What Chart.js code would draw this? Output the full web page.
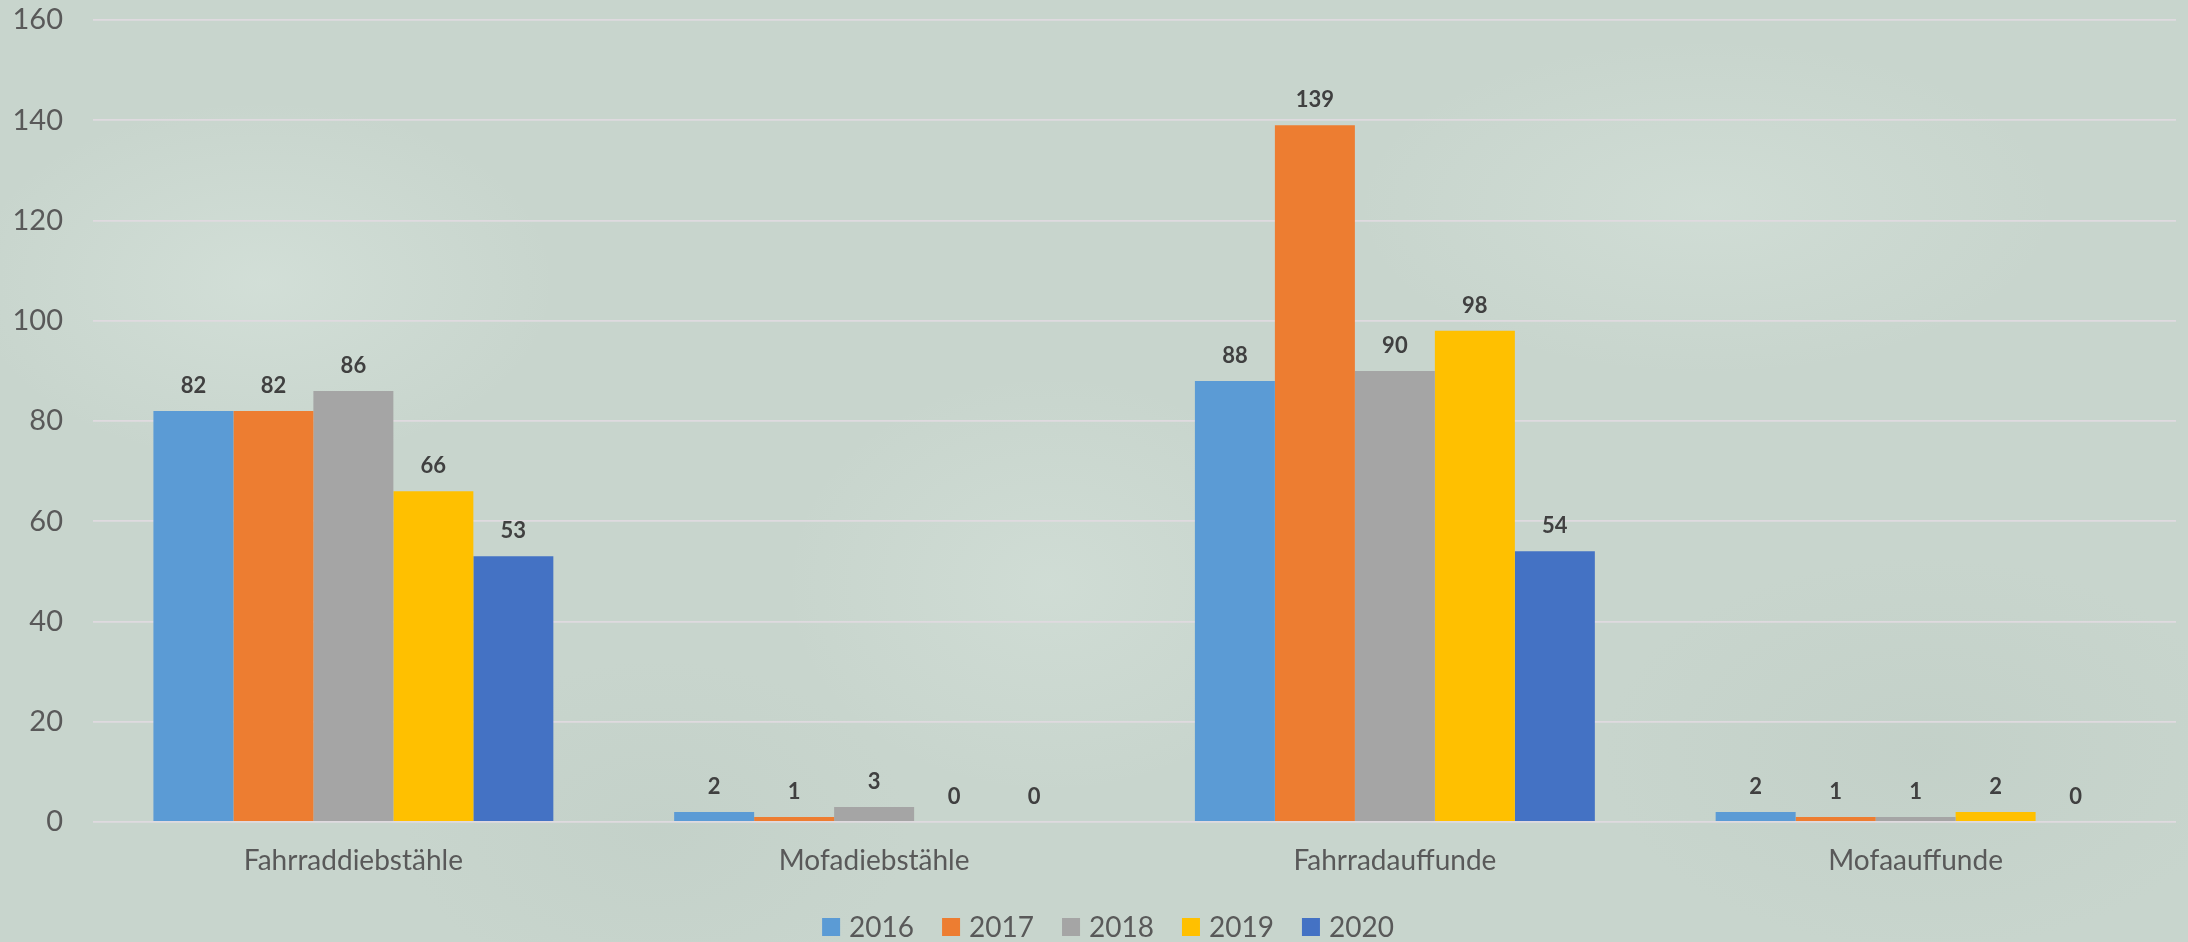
<!DOCTYPE html>
<html lang="de">
<head>
<meta charset="utf-8">
<title>Fahrrad- und Mofadiebstähle 2016–2020</title>
<script src="https://cdn.jsdelivr.net/npm/chart.js@4.4.1/dist/chart.umd.min.js"></script>
<style>
  html, body { margin: 0; padding: 0; width: 2188px; height: 942px; overflow: hidden; }
  body {
    background-color: #c8d5cd;
    background-image:
      radial-gradient(ellipse 420px 260px at 12% 30%, rgba(222,234,227,0.45), rgba(222,234,227,0) 70%),
      radial-gradient(ellipse 380px 300px at 48% 62%, rgba(222,234,227,0.35), rgba(222,234,227,0) 70%),
      radial-gradient(ellipse 500px 240px at 78% 22%, rgba(220,232,225,0.40), rgba(220,232,225,0) 70%),
      radial-gradient(ellipse 460px 280px at 88% 80%, rgba(186,200,192,0.35), rgba(186,200,192,0) 70%),
      radial-gradient(ellipse 360px 240px at 30% 88%, rgba(188,202,194,0.35), rgba(188,202,194,0) 70%);
  }
  canvas { display: block; }
</style>
</head>
<body>
<canvas id="chart" width="2188" height="942"></canvas>
<script>
// Kategorien und Werte je Jahr
const categories = ['Fahrraddiebstähle', 'Mofadiebstähle', 'Fahrradauffunde', 'Mofaauffunde'];
const years = ['2016', '2017', '2018', '2019', '2020'];
const values2016 = [82, 2, 88, 2];
const values2017 = [82, 1, 139, 1];
const values2018 = [86, 3, 90, 1];
const values2019 = [66, 0, 98, 2];
const values2020 = [53, 0, 54, 0];
const yTickValues = [0, 20, 40, 60, 80, 100, 120, 140, 160];

const seriesValues = [values2016, values2017, values2018, values2019, values2020];
const seriesColors = ['#5B9BD5', '#ED7D31', '#A5A5A5', '#FFC000', '#4472C4'];

const FONT = 'Lato, "Open Sans", "Liberation Sans", sans-serif';
const TEXT_GREY = '#595959';

// Zahlenwerte über den Balken
const valueLabels = {
  id: 'valueLabels',
  afterDatasetsDraw(chart) {
    const ctx = chart.ctx;
    ctx.save();
    ctx.font = 'bold 22px ' + FONT;
    ctx.fillStyle = '#404040';
    ctx.textAlign = 'center';
    ctx.textBaseline = 'alphabetic';
    chart.data.datasets.forEach((ds, i) => {
      chart.getDatasetMeta(i).data.forEach((bar, j) => {
        ctx.fillText(String(ds.data[j]), bar.x, bar.y - 18);
      });
    });
    ctx.restore();
  }
};

// Legende unter der Achsenbeschriftung
const bottomLegend = {
  id: 'bottomLegend',
  afterDraw(chart) {
    const ctx = chart.ctx;
    ctx.save();
    ctx.font = '28px ' + FONT;
    const box = 18, gap = 9, spacing = 28, centerX = 1108, boxTop = 918;
    const items = chart.data.datasets.map(ds => ({
      label: ds.label,
      color: ds.backgroundColor,
      w: box + gap + ctx.measureText(ds.label).width
    }));
    const total = items.reduce((s, it) => s + it.w, 0) + spacing * (items.length - 1);
    let x = centerX - total / 2;
    ctx.textAlign = 'left';
    ctx.textBaseline = 'middle';
    items.forEach(it => {
      ctx.fillStyle = it.color;
      ctx.fillRect(x, boxTop, box, box);
      ctx.fillStyle = TEXT_GREY;
      ctx.fillText(it.label, x + box + gap, boxTop + box / 2 + 1);
      x += it.w + spacing;
    });
    ctx.restore();
  }
};

function draw() {
  new Chart(document.getElementById('chart'), {
    type: 'bar',
    data: {
      labels: categories,
      datasets: years.map((year, i) => ({
        label: year,
        data: seriesValues[i],
        backgroundColor: seriesColors[i],
        borderWidth: 0,
        categoryPercentage: 0.768,
        barPercentage: 1.0
      }))
    },
    options: {
      responsive: false,
      devicePixelRatio: 1,
      animation: false,
      layout: { padding: { top: 20, right: 12, bottom: 0, left: 0 } },
      plugins: {
        legend: { display: false },
        tooltip: { enabled: false }
      },
      scales: {
        x: {
          grid: { display: false, drawTicks: false },
          border: { display: false },
          ticks: {
            color: TEXT_GREY,
            font: { family: FONT, size: 28 },
            padding: 22,
            maxRotation: 0,
            autoSkip: false
          },
          afterFit(scale) { scale.height = 120; }
        },
        y: {
          min: 0,
          max: 160,
          afterBuildTicks(scale) { scale.ticks = yTickValues.map(v => ({ value: v })); },
          grid: { color: '#dfdadf', lineWidth: 1.8, drawTicks: false },
          border: { display: false },
          ticks: {
            color: TEXT_GREY,
            font: { family: FONT, size: 29 },
            padding: 30
          },
          afterFit(scale) {
            scale.width = 93;
            scale.paddingTop = 0;
            scale.paddingBottom = 0;
          }
        }
      }
    },
    plugins: [valueLabels, bottomLegend]
  });
}

if (document.fonts && document.fonts.load) {
  Promise.all([
    document.fonts.load('28px Lato'),
    document.fonts.load('bold 22px Lato')
  ]).then(draw, draw);
} else {
  draw();
}
</script>
</body>
</html>
